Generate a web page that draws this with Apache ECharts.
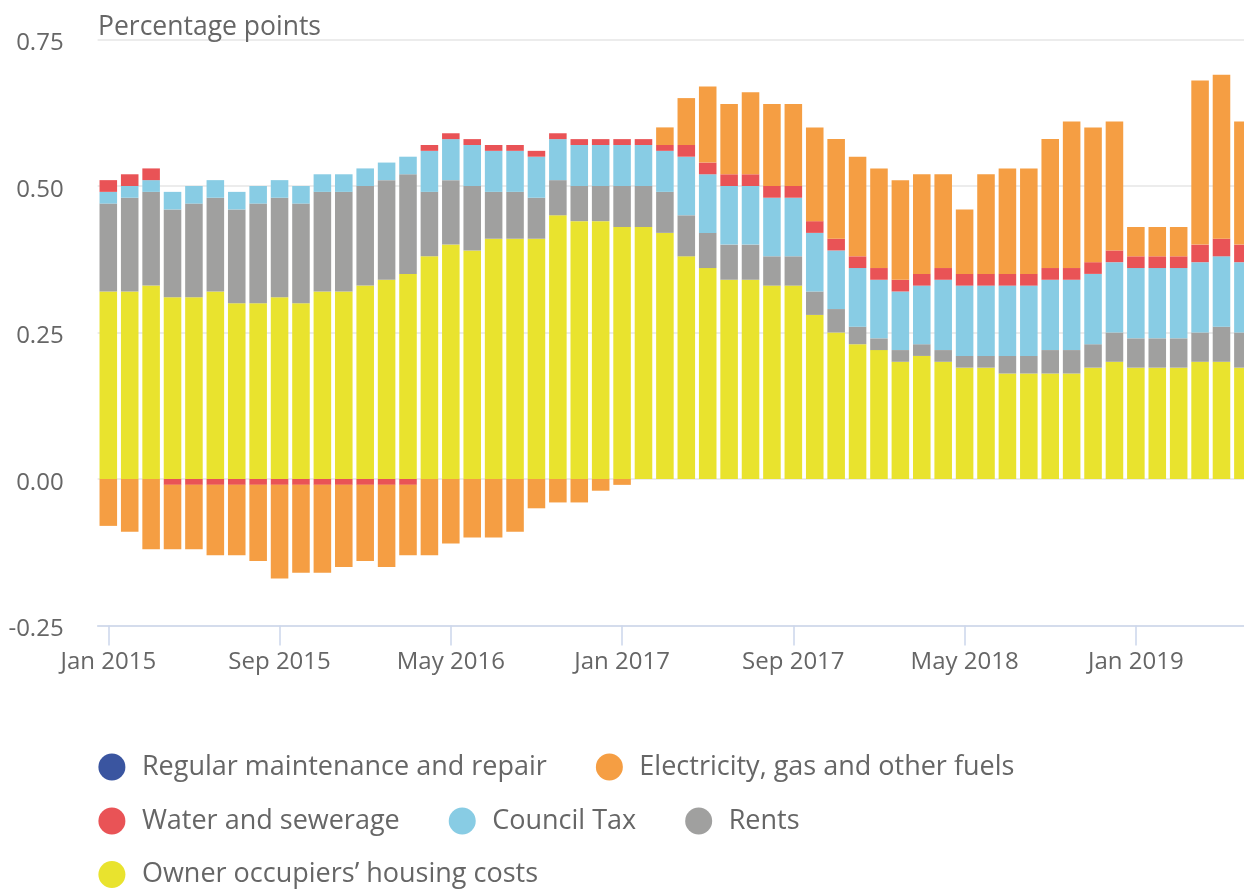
<!DOCTYPE html>
<html>
<head>
<meta charset="utf-8">
<script src="https://cdn.jsdelivr.net/npm/echarts@6/dist/echarts.min.js"></script>
<style>
html,body{margin:0;padding:0;background:#fff;}
#chart{width:1244px;height:890px;}
</style>
</head>
<body>
<div id="chart"></div>
<script>
const categories = [
  "Jan 2015","Feb 2015","Mar 2015","Apr 2015","May 2015","Jun 2015","Jul 2015","Aug 2015","Sep 2015","Oct 2015","Nov 2015","Dec 2015",
  "Jan 2016","Feb 2016","Mar 2016","Apr 2016","May 2016","Jun 2016","Jul 2016","Aug 2016","Sep 2016","Oct 2016","Nov 2016","Dec 2016",
  "Jan 2017","Feb 2017","Mar 2017","Apr 2017","May 2017","Jun 2017","Jul 2017","Aug 2017","Sep 2017","Oct 2017","Nov 2017","Dec 2017",
  "Jan 2018","Feb 2018","Mar 2018","Apr 2018","May 2018","Jun 2018","Jul 2018","Aug 2018","Sep 2018","Oct 2018","Nov 2018","Dec 2018",
  "Jan 2019","Feb 2019","Mar 2019","Apr 2019","May 2019","Jun 2019"
];

const ownerOccupiers = [
  0.32,0.32,0.33,0.31,0.31,0.32,0.30,0.30,0.31,0.30,0.32,0.32,
  0.33,0.34,0.35,0.38,0.40,0.39,0.41,0.41,0.41,0.45,0.44,0.44,
  0.43,0.43,0.42,0.38,0.36,0.34,0.34,0.33,0.33,0.28,0.25,0.23,
  0.22,0.20,0.21,0.20,0.19,0.19,0.18,0.18,0.18,0.18,0.19,0.20,
  0.19,0.19,0.19,0.20,0.20,0.19
];
const rents = [
  0.15,0.16,0.16,0.15,0.16,0.16,0.16,0.17,0.17,0.17,0.17,0.17,
  0.17,0.17,0.17,0.11,0.11,0.11,0.08,0.08,0.07,0.06,0.06,0.06,
  0.07,0.07,0.07,0.07,0.06,0.06,0.06,0.05,0.05,0.04,0.04,0.03,
  0.02,0.02,0.02,0.02,0.02,0.02,0.03,0.03,0.04,0.04,0.04,0.05,
  0.05,0.05,0.05,0.05,0.06,0.06
];
const councilTax = [
  0.02,0.02,0.02,0.03,0.03,0.03,0.03,0.03,0.03,0.03,0.03,0.03,
  0.03,0.03,0.03,0.07,0.07,0.07,0.07,0.07,0.07,0.07,0.07,0.07,
  0.07,0.07,0.07,0.10,0.10,0.10,0.10,0.10,0.10,0.10,0.10,0.10,
  0.10,0.10,0.10,0.12,0.12,0.12,0.12,0.12,0.12,0.12,0.12,0.12,
  0.12,0.12,0.12,0.12,0.12,0.12
];
const waterSewerage = [
  0.02,0.02,0.02,-0.01,-0.01,-0.01,-0.01,-0.01,-0.01,-0.01,-0.01,-0.01,
  -0.01,-0.01,-0.01,0.01,0.01,0.01,0.01,0.01,0.01,0.01,0.01,0.01,
  0.01,0.01,0.01,0.02,0.02,0.02,0.02,0.02,0.02,0.02,0.02,0.02,
  0.02,0.02,0.02,0.02,0.02,0.02,0.02,0.02,0.02,0.02,0.02,0.02,
  0.02,0.02,0.02,0.03,0.03,0.03
];
const electricityGas = [
  -0.08,-0.09,-0.12,-0.11,-0.11,-0.12,-0.12,-0.13,-0.16,-0.15,-0.15,-0.14,
  -0.13,-0.14,-0.12,-0.13,-0.11,-0.10,-0.10,-0.09,-0.05,-0.04,-0.04,-0.02,
  -0.01,0.00,0.03,0.08,0.13,0.12,0.14,0.14,0.14,0.16,0.17,0.17,
  0.17,0.17,0.17,0.16,0.11,0.17,0.18,0.18,0.22,0.25,0.23,0.22,
  0.05,0.05,0.05,0.28,0.28,0.21
];
const regularMaintenance = [
  0,0,0,0,0,0,0,0,0,0,0,0,
  0,0,0,0,0,0,0,0,0,0,0,0,
  0,0,0,0,0,0,0,0,0,0,0,0,
  0,0,0,0,0,0,0,0,0,0,0,0,
  0,0,0,0,0,0
];
const yTicks = [-0.25, 0, 0.25, 0.5, 0.75];

const NAMES = {
  reg: "Regular maintenance and repair",
  elec: "Electricity, gas and other fuels",
  water: "Water and sewerage",
  council: "Council Tax",
  rents: "Rents",
  owner: "Owner occupiers\u2019 housing costs"
};
const COLORS = {
  reg: "#3a55a0", elec: "#f59e43", water: "#e95356",
  council: "#88cce4", rents: "#a0a09f", owner: "#e9e32e"
};

const chart = echarts.init(document.getElementById('chart'), null, {renderer: 'canvas'});
const FONT = "'Open Sans', 'Noto Sans', sans-serif";
const TXT = "#666666";

function bar(key, data) {
  return {
    name: NAMES[key], type: 'bar', stack: 'total', data: data,
    barCategoryGap: '18%',
    itemStyle: {color: COLORS[key]},
    emphasis: {disabled: true}
  };
}
function legend(names, left, top) {
  return {
    data: names, left: left, top: top, padding: 0, orient: 'horizontal',
    icon: 'circle', itemWidth: 50, itemHeight: 27, itemGap: 49,
    selectedMode: false,
    textStyle: {fontFamily: FONT, fontSize: 27, color: TXT}
  };
}

chart.setOption({
  animation: false,
  backgroundColor: '#ffffff',
  textStyle: {fontFamily: FONT},
  title: {
    text: 'Percentage points', left: 98, top: 14, padding: 0,
    textStyle: {fontFamily: FONT, fontSize: 26.5, fontWeight: 'normal', color: TXT}
  },
  grid: {left: 97.6, width: 1156, top: 39.5, bottom: 264.5, containLabel: false, outerBoundsMode: 'none'},
  legend: [
    legend([NAMES.reg, NAMES.elec], 98.4, 753.5),
    legend([NAMES.water, NAMES.council, NAMES.rents], 98.4, 807.5),
    legend([NAMES.owner], 98.4, 861)
  ],
  xAxis: {
    type: 'category', data: categories,
    axisLine: {show: true, onZero: false, lineStyle: {color: '#ccd6eb', width: 1.5}},
    axisTick: {show: true, alignWithLabel: true, interval: 7, length: 20, lineStyle: {color: '#ccd6eb', width: 1.5}},
    axisLabel: {interval: 7, margin: 25, fontFamily: FONT, fontSize: 24, color: TXT},
    splitLine: {show: false}
  },
  yAxis: {
    type: 'value', min: yTicks[0], max: yTicks[yTicks.length - 1], interval: 0.25,
    axisLine: {show: false}, axisTick: {show: false},
    axisLabel: {
      margin: 34, fontFamily: FONT, fontSize: 24, color: TXT,
      verticalAlign: 'top', lineHeight: 8,
      formatter: v => v.toFixed(2)
    },
    splitLine: {show: true, lineStyle: {color: '#e6e6e6', width: 1.5}}
  },
  series: [
    bar('owner', ownerOccupiers),
    bar('rents', rents),
    bar('council', councilTax),
    bar('water', waterSewerage),
    bar('elec', electricityGas),
    bar('reg', regularMaintenance)
  ]
});
</script>
</body>
</html>
